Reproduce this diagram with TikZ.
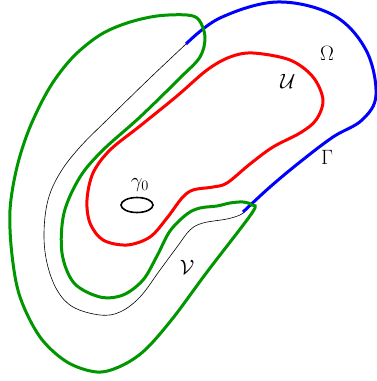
\documentclass[tikz,border=0pt]{standalone}
\usepackage{amsmath}
\usepackage{amssymb}
\usetikzlibrary{calc}
\definecolor{vgreen}{RGB}{0, 150, 0}

\begin{document}
\begin{tikzpicture}[
    x=1pt, y=-1pt,
    thinbd/.style={black, line width=0.6pt},
    gammabd/.style={blue, line width=3pt},
    ubd/.style={red, line width=3pt},
    vbd/.style={vgreen, line width=3pt},
    lbl/.style={font=\fontsize{21}{24}\selectfont}
]
    \useasboundingbox (0,0) rectangle (377,381);

    % the domain Omega: thin part of the boundary
    \draw[thinbd] plot[smooth, tension=0.6] coordinates {(186,44) (150,78) (110,117) (80,147) (60,173) (48,200) (44,233) (47,263) (57,290) (73,307) (100,315) (120,312) (140,297) (160,270) (177,247) (190,230) (203,223) (227,219) (240,215) (244,212)};

    % Gamma
    \draw[gammabd] plot[smooth, tension=0.6] coordinates {(186,44) (220,18) (277,2) (333,15) (366,50) (376,95) (362,120) (333,137) (300,162) (270,187) (243,212)};

    % V
    \draw[vbd] plot[smooth cycle, tension=0.55] coordinates {(187,15) (157,16) (127,23) (100,35) (73,57) (50,87) (30,127) (17,167) (10,210) (12,255) (20,297) (40,337) (67,362) (97,372) (121,366) (145,350) (173,318) (207,272) (252,213) (252,205) (243,202) (230,203) (217,206) (200,208) (187,214) (170,231) (157,256) (143,280) (123,295) (100,297) (74,283) (62,253) (64,213) (80,177) (103,150) (140,117) (180,78) (200,57) (205,37) (199,20)};

    % U
    \draw[ubd] plot[smooth cycle, tension=0.55] coordinates {(253,53) (290,60) (313,77) (323,100) (316,120) (300,133) (273,147) (250,164) (227,183) (213,187) (193,190) (182,198) (167,218) (150,237) (127,245) (103,240) (90,223) (87,200) (93,173) (110,150) (140,126) (177,96) (207,70) (230,57)};

    % gamma_0
    \draw[black, line width=1.6pt] (137,205) ellipse [x radius=16pt, y radius=7.5pt];

    \node[lbl] (om) at (327,53) {$\Omega$};
    \node[lbl] (uu) at (288,81) {$\mathcal{U}$};
    \node[lbl] (ga) at (327,157) {$\Gamma$};
    \node[lbl] (vv) at (187,267) {$\mathcal{V}$};
    \node[lbl] (g0) at (140,185) {$\gamma_0$};
\end{tikzpicture}
\end{document}
